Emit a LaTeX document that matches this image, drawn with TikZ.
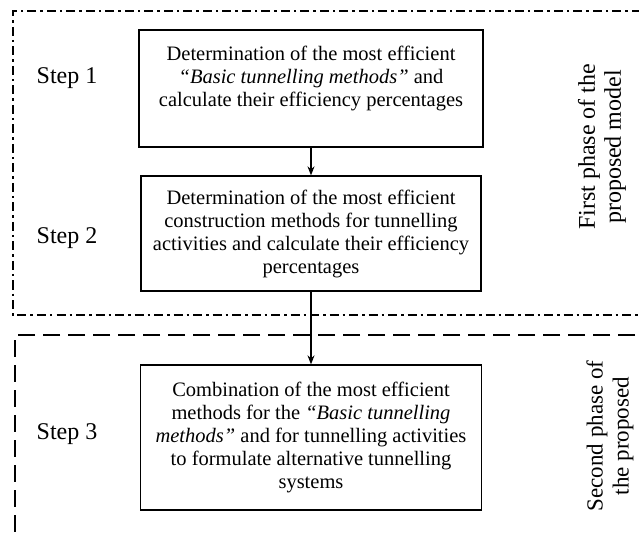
\documentclass[tikz,border=0pt]{standalone}
\usepackage{fontspec}
\setmainfont{Liberation Serif}
\usetikzlibrary{arrows.meta}

\tikzset{
  ->/.style={draw=black,line width=1.3pt,-{Stealth[length=9pt,width=7pt]}},
  stepbox/.style={draw=black,line width=1.3pt,align=center,inner sep=4pt,
    font=\fontsize{20.5}{23}\selectfont},
  phase1/.style={draw=black,line width=1.8pt,dash pattern=on 9pt off 4pt on 2.5pt off 4pt},
  phase2/.style={draw=black,line width=1.8pt,dash pattern=on 17pt off 8pt}
}
\tikzstyle{every node}=[color=black,font=\fontsize{24}{26}\selectfont]

\begin{document}
\begin{tikzpicture}[x=1pt,y=-1pt]
    \useasboundingbox (0,0) rectangle (639,537);
    \clip (0,0) rectangle (639,537);
    % phase frames
    \draw [phase1] (660,11) -- (13,11) -- (13,315) -- (660,315);
    \draw [phase2] (660,335) -- (15,335) -- (15,560);
    % steps
    \node[stepbox,minimum width=344pt,minimum height=117pt,text depth=24pt] (S1) at (311,88.5)
      {Determination of the most efficient\\
       \textit{``Basic tunnelling methods''} and\\
       calculate their efficiency percentages};
    \node[stepbox,minimum width=340pt,minimum height=115pt] (S2) at (311,233.5)
      {Determination of the most efficient\\
       construction methods for tunnelling\\
       activities and calculate their efficiency\\
       percentages};
    \node[stepbox,minimum width=341pt,minimum height=145pt] (S3) at (311,437.5)
      {Combination of the most efficient\\
       methods for the \textit{``Basic tunnelling}\\
       \textit{methods''} and for tunnelling activities\\
       to formulate alternative tunnelling\\
       systems};
    \node (L1) at (67,78) {Step 1};
    \node (L2) at (67,238) {Step 2};
    \node (L3) at (67,434) {Step 3};
    \node[rotate=90,align=center] (P1) at (602,147) {First phase of the\\proposed model};
    \node[rotate=90,align=center,font=\fontsize{23}{26}\selectfont] (P2) at (610,436)
      {Second phase of\\the proposed};
    \draw [->] (S1) -- (S2);
    \draw [->] (S2) -- (S3);
\end{tikzpicture}
\end{document}
